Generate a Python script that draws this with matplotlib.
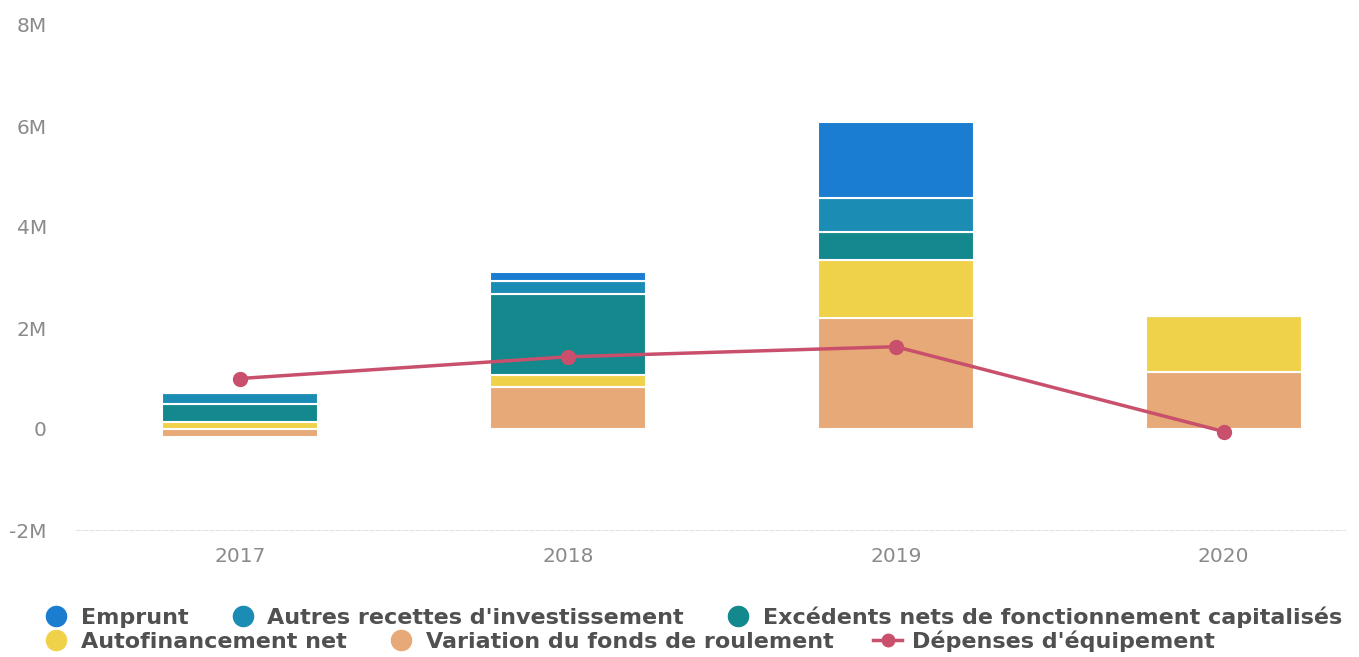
import matplotlib.pyplot as plt
import numpy as np
from matplotlib.lines import Line2D

years = ['2017', '2018', '2019', '2020']

# stacked series, bottom to top (values in M EUR)
variation = [-0.16, 0.83, 2.19, 1.12]
autofinancement = [0.13, 0.23, 1.16, 1.12]
excedents = [0.36, 1.61, 0.56, 0.0]
autres = [0.23, 0.26, 0.67, 0.0]
emprunt = [0.0, 0.18, 1.49, 0.0]
depenses = [1.0, 1.43, 1.63, -0.05]

c_var, c_auto, c_exc, c_autres, c_emp = '#e6a977', '#f0d24a', '#13888d', '#1b8db5', '#1a7dd0'
c_line = '#c9506c'

series = [
    ('Variation du fonds de roulement', variation, c_var),
    ('Autofinancement net', autofinancement, c_auto),
    ('Excédents nets de fonctionnement capitalisés', excedents, c_exc),
    ('Autres recettes d\'investissement', autres, c_autres),
    ('Emprunt', emprunt, c_emp),
]

plt.rcParams['font.family'] = ['DejaVu Sans']
fig = plt.figure(figsize=(13.59, 6.57), dpi=100)
ax = fig.add_axes([76 / 1359, (657 - 530) / 657, (1345 - 76) / 1359, 505 / 657])

x = np.arange(len(years))
pos_base = np.zeros(len(years))
neg_base = np.zeros(len(years))
for name, vals, col in series:
    vals = np.array(vals)
    bottom = np.where(vals >= 0, pos_base, neg_base)
    ax.bar(x, vals, width=0.475, bottom=bottom, color=col,
           edgecolor='white', linewidth=1.5, zorder=2)
    pos_base += np.where(vals >= 0, vals, 0)
    neg_base += np.where(vals < 0, vals, 0)

ax.plot(x, depenses, color=c_line, lw=2.5, marker='o', ms=10, zorder=3)

ax.set_xlim(-0.5, 3.37)
ax.set_ylim(-2, 8)
ax.set_yticks([-2, 0, 2, 4, 6, 8])
ax.set_yticklabels(['-2M', '0', '2M', '4M', '6M', '8M'])
ax.set_xticks(x)
ax.set_xticklabels(years)
ax.tick_params(axis='both', length=0, labelsize=14.5, colors='#8a8a8a')
ax.tick_params(axis='x', pad=12)
ax.tick_params(axis='y', pad=21)
for s in ['top', 'right', 'left']:
    ax.spines[s].set_visible(False)
ax.spines['bottom'].set_color('#e4e4e4')
ax.spines['bottom'].set_linestyle((0, (4, 2)))


def dot(col):
    return Line2D([], [], ls='none', marker='o', ms=14.5, color=col)


leg_kw = dict(ncol=3, loc='center left', frameon=False, borderpad=0, borderaxespad=0,
              handlelength=1.3, handletextpad=0.45, columnspacing=1.8,
              prop={'weight': 'bold', 'size': 16}, labelcolor='#505050')

fig.legend([dot(c_emp), dot(c_autres), dot(c_exc)],
           ['Emprunt', 'Autres recettes d\'investissement',
            'Excédents nets de fonctionnement capitalisés'],
           bbox_to_anchor=(42 / 1359, 1 - 617 / 657), **leg_kw)
fig.legend([dot(c_auto), dot(c_var),
            Line2D([], [], color=c_line, lw=2.5, marker='o', ms=9)],
           ['Autofinancement net', 'Variation du fonds de roulement',
            'Dépenses d\'équipement'],
           bbox_to_anchor=(42 / 1359, 1 - 641 / 657), **leg_kw)

fig.savefig('out.png', dpi=100, facecolor='white')
